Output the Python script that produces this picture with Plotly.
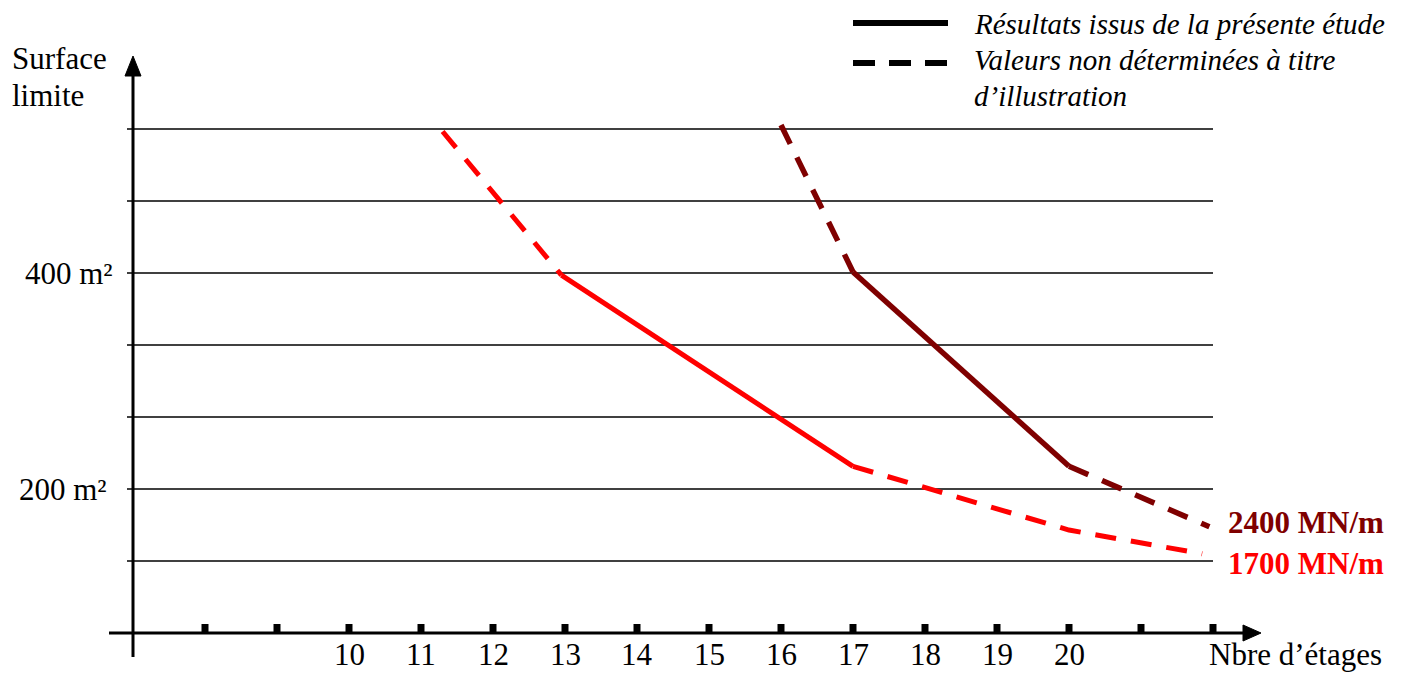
import plotly.graph_objects as go

# ---- data: limiting surface (m²) versus number of storeys ----
# 1700 MN/m
floors_1700_est_top = [11.3, 12.95]
surf_1700_est_top = [531, 398]
floors_1700_res = [12.95, 17]
surf_1700_res = [398, 221]
floors_1700_est_bot = [17, 20, 21.85]
surf_1700_est_bot = [221, 162, 140]

# 2400 MN/m
floors_2400_est_top = [16, 17]
surf_2400_est_top = [537, 401]
floors_2400_res = [17, 20]
surf_2400_res = [401, 221]
floors_2400_est_bot = [20, 21.95]
surf_2400_est_bot = [221, 165]

grid_levels = [133.33, 200, 266.67, 333.33, 400, 466.67, 533.33]
tick_floors = list(range(8, 23))
tick_labels = ["10", "11", "12", "13", "14", "15", "16", "17", "18", "19", "20"]
tick_label_floors = list(range(10, 21))
y_labels = ["400 m²", "200 m²"]

RED = "#ff0000"
DARK_RED = "#7f0000"
FONT = "Liberation Serif, Times New Roman, serif"

W, H = 1406, 675
# axis scaling: 72 px per storey, 1.08 px per m²; origin of axes at storey 7
X_PER_PX = 1 / 72.0
Y_PER_PX = 1 / 1.08
X0_PX, Y0_PX = 133, 633
X_ORIGIN, Y_ORIGIN = 7.0, 66.667


def px2x(px):
    return X_ORIGIN + (px - X0_PX) * X_PER_PX


def py2y(py):
    return Y_ORIGIN + (Y0_PX - py) * Y_PER_PX


fig = go.Figure()

dash_pat = "21px,15px"


def add_line(xs, ys, color, dashed, width):
    fig.add_trace(go.Scatter(
        x=xs, y=ys, mode="lines",
        line=dict(color=color, width=width, dash=dash_pat if dashed else "solid"),
        hoverinfo="skip", showlegend=False,
    ))


add_line(floors_1700_est_top, surf_1700_est_top, RED, True, 5)
add_line(floors_1700_res, surf_1700_res, RED, False, 5)
add_line(floors_1700_est_bot, surf_1700_est_bot, RED, True, 5)
add_line(floors_2400_est_top, surf_2400_est_top, DARK_RED, True, 5.5)
add_line(floors_2400_res, surf_2400_res, DARK_RED, False, 5.5)
add_line(floors_2400_est_bot, surf_2400_est_bot, DARK_RED, True, 5.5)

shapes = []
# horizontal grid lines
for g in grid_levels:
    shapes.append(dict(type="line", xref="x", yref="y", x0=px2x(127), x1=22,
                       y0=g, y1=g, line=dict(color="black", width=1.6), layer="below"))

# vertical axis with arrow
shapes.append(dict(type="line", xref="x", yref="y", x0=X_ORIGIN, x1=X_ORIGIN,
                   y0=py2y(657), y1=py2y(70), line=dict(color="black", width=3)))
shapes.append(dict(type="path", xref="x", yref="y",
                   path=f"M {X_ORIGIN} {py2y(56)} L {px2x(125)} {py2y(76)} L {px2x(141)} {py2y(76)} Z",
                   fillcolor="black", line=dict(color="black", width=1)))

# horizontal axis with arrow
shapes.append(dict(type="line", xref="x", yref="y", x0=px2x(109), x1=px2x(1248),
                   y0=Y_ORIGIN, y1=Y_ORIGIN, line=dict(color="black", width=3)))
shapes.append(dict(type="path", xref="x", yref="y",
                   path=f"M {px2x(1261)} {Y_ORIGIN} L {px2x(1243)} {py2y(625)} L {px2x(1243)} {py2y(641)} Z",
                   fillcolor="black", line=dict(color="black", width=1)))

# tick marks
for t in tick_floors:
    shapes.append(dict(type="rect", xref="x", yref="y",
                       x0=t - 3.5 * X_PER_PX, x1=t + 3.5 * X_PER_PX,
                       y0=Y_ORIGIN, y1=py2y(624),
                       fillcolor="black", line=dict(width=0)))

# legend samples
shapes.append(dict(type="line", xref="x", yref="y", x0=px2x(853), x1=px2x(948),
                   y0=py2y(23), y1=py2y(23), line=dict(color="black", width=6)))
shapes.append(dict(type="line", xref="x", yref="y", x0=px2x(853), x1=px2x(948),
                   y0=py2y(63), y1=py2y(63), line=dict(color="black", width=6, dash="22px,14px")))

annotations = []


def text(x, y, s, size=31, color="black", xanchor="center", yanchor="middle",
         bold=False, italic=False):
    if bold:
        s = f"<b>{s}</b>"
    if italic:
        s = f"<i>{s}</i>"
    annotations.append(dict(x=x, y=y, xref="x", yref="y", text=s, showarrow=False,
                            xanchor=xanchor, yanchor=yanchor,
                            font=dict(family=FONT, size=size, color=color)))


for f, lab in zip(tick_label_floors, tick_labels):
    text(f, py2y(674), lab, yanchor="bottom")

text(px2x(1207), py2y(674), "Nbre d’étages", xanchor="left", yanchor="bottom")
text(px2x(10), py2y(58), "Surface", xanchor="left")
text(px2x(10), py2y(95), "limite", xanchor="left")
text(px2x(69), 400, y_labels[0])
text(px2x(63), 200, y_labels[1])

text(px2x(1226), py2y(522), "2400 MN/m", size=31, color=DARK_RED, xanchor="left", bold=True)
text(px2x(1226), py2y(563), "1700 MN/m", size=31, color=RED, xanchor="left", bold=True)

text(px2x(972), py2y(24), "Résultats issus de la présente étude", size=29, xanchor="left", italic=True)
text(px2x(972), py2y(60), "Valeurs non déterminées à titre", size=29, xanchor="left", italic=True)
text(px2x(972), py2y(96), "d’illustration", size=29, xanchor="left", italic=True)

fig.update_layout(
    width=W, height=H,
    margin=dict(l=0, r=0, t=0, b=0),
    paper_bgcolor="white", plot_bgcolor="white",
    xaxis=dict(range=[px2x(0), px2x(W)], visible=False, fixedrange=True),
    yaxis=dict(range=[py2y(H), py2y(0)], visible=False, fixedrange=True),
    shapes=shapes, annotations=annotations,
    showlegend=False, hovermode=False,
)

fig.write_html("out.html")
